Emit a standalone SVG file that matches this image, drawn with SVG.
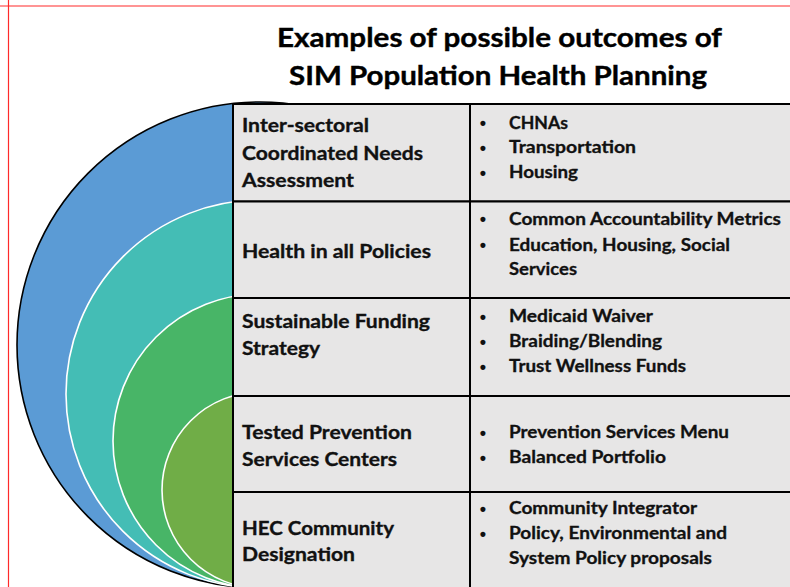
<svg xmlns="http://www.w3.org/2000/svg" width="790" height="587" viewBox="0 0 790 587">
  <style>
    .title { font-family: Lato, "Open Sans", "Liberation Sans", sans-serif; font-weight: 700; font-size: 27px; fill: #000; stroke: #000; stroke-width: 0.4; }
    .head  { font-family: Lato, "Open Sans", "Liberation Sans", sans-serif; font-weight: 700; font-size: 19.5px; fill: #111; stroke: #111; stroke-width: 0.35; }
    .item  { font-family: Lato, "Open Sans", "Liberation Sans", sans-serif; font-weight: 700; font-size: 16.5px; fill: #111; stroke: #111; stroke-width: 0.3; }
    .bul   { font-family: "Liberation Sans", sans-serif; font-weight: 700; font-size: 18px; fill: #111; text-anchor: middle; }
    .cell  { fill: #E7E6E6; stroke: #000; stroke-width: 2; }
    .ring  { stroke: #fff; stroke-width: 1.6; }
    .frame { stroke: #FF2A2A; stroke-width: 1.2; fill: none; }
  </style>

  <rect width="790" height="587" fill="#fff"/>

  <!-- frame lines -->
  <line class="frame" x1="0" y1="6" x2="790" y2="6"/>
  <line class="frame" x1="8.5" y1="0" x2="8.5" y2="587"/>

  <!-- title -->
  <g id="title">
    <text class="title" x="277" y="47" textLength="445" lengthAdjust="spacingAndGlyphs">Examples of possible outcomes of</text>
    <text class="title" x="289" y="85" textLength="418" lengthAdjust="spacingAndGlyphs">SIM Population Health Planning</text>
  </g>

  <!-- nested circles, all touching at the bottom -->
  <g id="rings">
    <circle cx="260" cy="345" r="243" fill="#5B9BD5" stroke="#000" stroke-width="1.6"/>
    <circle class="ring" cx="260" cy="394" r="194" fill="#44BDB5"/>
    <circle class="ring" cx="260" cy="441" r="147" fill="#48B567"/>
    <circle class="ring" cx="260" cy="490" r="98" fill="#70AD47"/>
  </g>

  <!-- table rows -->
  <g id="row-needs">
    <rect class="cell" x="233" y="104" width="237" height="97.5"/>
    <rect class="cell" x="470" y="104" width="330" height="97.5"/>
    <text class="head" x="242" y="132" textLength="127" lengthAdjust="spacingAndGlyphs">Inter-sectoral</text>
    <text class="head" x="242" y="160" textLength="181" lengthAdjust="spacingAndGlyphs">Coordinated Needs</text>
    <text class="head" x="242" y="187" textLength="112" lengthAdjust="spacingAndGlyphs">Assessment</text>
    <text class="bul" x="483" y="129">•</text>
    <text class="bul" x="483" y="154">•</text>
    <text class="bul" x="483" y="179">•</text>
    <text class="item" x="509" y="128.5" textLength="59" lengthAdjust="spacingAndGlyphs">CHNAs</text>
    <text class="item" x="509" y="153" textLength="127" lengthAdjust="spacingAndGlyphs">Transportation</text>
    <text class="item" x="509" y="178" textLength="69" lengthAdjust="spacingAndGlyphs">Housing</text>
  </g>

  <g id="row-policies">
    <rect class="cell" x="233" y="201.5" width="237" height="96.5"/>
    <rect class="cell" x="470" y="201.5" width="330" height="96.5"/>
    <text class="head" x="242" y="258" textLength="189" lengthAdjust="spacingAndGlyphs">Health in all Policies</text>
    <text class="bul" x="483" y="225">•</text>
    <text class="bul" x="483" y="251">•</text>
    <text class="item" x="509" y="224.5" textLength="272" lengthAdjust="spacingAndGlyphs">Common Accountability Metrics</text>
    <text class="item" x="509" y="250.5" textLength="221" lengthAdjust="spacingAndGlyphs">Education, Housing, Social</text>
    <text class="item" x="509" y="275" textLength="68" lengthAdjust="spacingAndGlyphs">Services</text>
  </g>

  <g id="row-funding">
    <rect class="cell" x="233" y="298" width="237" height="98"/>
    <rect class="cell" x="470" y="298" width="330" height="98"/>
    <text class="head" x="242" y="327.5" textLength="188" lengthAdjust="spacingAndGlyphs">Sustainable Funding</text>
    <text class="head" x="242" y="355" textLength="78" lengthAdjust="spacingAndGlyphs">Strategy</text>
    <text class="bul" x="483" y="323">•</text>
    <text class="bul" x="483" y="348">•</text>
    <text class="bul" x="483" y="373">•</text>
    <text class="item" x="509" y="322" textLength="144" lengthAdjust="spacingAndGlyphs">Medicaid Waiver</text>
    <text class="item" x="509" y="347" textLength="153" lengthAdjust="spacingAndGlyphs">Braiding/Blending</text>
    <text class="item" x="509" y="372" textLength="177" lengthAdjust="spacingAndGlyphs">Trust Wellness Funds</text>
  </g>

  <g id="row-prevention">
    <rect class="cell" x="233" y="396" width="237" height="96"/>
    <rect class="cell" x="470" y="396" width="330" height="96"/>
    <text class="head" x="242" y="438.5" textLength="170" lengthAdjust="spacingAndGlyphs">Tested Prevention</text>
    <text class="head" x="242" y="466" textLength="155" lengthAdjust="spacingAndGlyphs">Services Centers</text>
    <text class="bul" x="483" y="438.5">•</text>
    <text class="bul" x="483" y="463.5">•</text>
    <text class="item" x="509" y="437.5" textLength="220" lengthAdjust="spacingAndGlyphs">Prevention Services Menu</text>
    <text class="item" x="509" y="462.5" textLength="157" lengthAdjust="spacingAndGlyphs">Balanced Portfolio</text>
  </g>

  <g id="row-designation">
    <rect class="cell" x="233" y="492" width="237" height="100"/>
    <rect class="cell" x="470" y="492" width="330" height="100"/>
    <text class="head" x="242" y="535" textLength="152" lengthAdjust="spacingAndGlyphs">HEC Community</text>
    <text class="head" x="242" y="561" textLength="113" lengthAdjust="spacingAndGlyphs">Designation</text>
    <text class="bul" x="483" y="515">•</text>
    <text class="bul" x="483" y="540">•</text>
    <text class="item" x="509" y="514" textLength="188" lengthAdjust="spacingAndGlyphs">Community Integrator</text>
    <text class="item" x="509" y="539" textLength="218" lengthAdjust="spacingAndGlyphs">Policy, Environmental and</text>
    <text class="item" x="509" y="564" textLength="203" lengthAdjust="spacingAndGlyphs">System Policy proposals</text>
  </g>
</svg>
